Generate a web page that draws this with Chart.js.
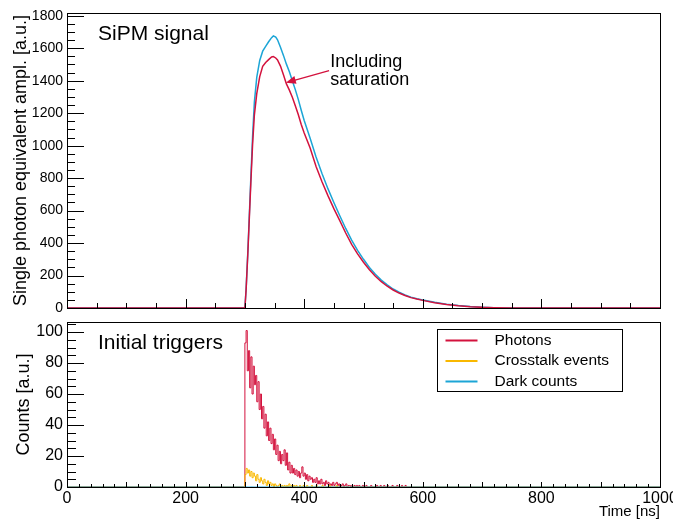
<!DOCTYPE html>
<html lang="en">
<head>
<meta charset="UTF-8">
<title>SiPM signal and initial triggers</title>
<script src="https://cdn.jsdelivr.net/npm/chart.js"></script>
<style>
  body { margin: 0; background: #fff; }
  .panel { position: absolute; left: 0; }
  #top { top: 0; }
  #bottom { top: 315px; }
</style>
</head>
<body>
<div class="panel" id="top"><canvas id="signalChart" width="673" height="315"></canvas></div>
<div class="panel" id="bottom"><canvas id="triggerChart" width="673" height="206"></canvas></div>
<script>
// ---- upper panel: SiPM signal (ns, single photon equivalent amplitude)
const signalTimes = [0, 300, 302, 305, 308, 310, 313, 316, 320, 325,
  330, 335, 340, 345, 348, 352, 355, 360, 365, 370,
  375, 380, 385, 390, 395, 400, 410, 420, 430, 440,
  450, 460, 470, 480, 490, 500, 510, 520, 530, 540,
  550, 560, 570, 580, 590, 600, 620, 640, 660, 680,
  700, 720, 750, 1000];
const signalSaturated = [0, 0, 110, 340, 600, 770, 1010, 1190, 1320, 1425,
  1488, 1512, 1530, 1546, 1549, 1540, 1528, 1490, 1436, 1380,
  1342, 1298, 1246, 1192, 1130, 1078, 985, 872, 778, 692,
  612, 538, 462, 392, 333, 282, 236, 196, 162, 134,
  111, 92, 77, 64, 55, 47, 33, 22, 14, 8,
  4, 2, 0, 0];
const signalIdeal = [0, 0, 115, 350, 620, 800, 1060, 1270, 1420, 1525,
  1582, 1612, 1640, 1665, 1676, 1668, 1652, 1606, 1556, 1502,
  1455, 1400, 1345, 1285, 1218, 1155, 1045, 930, 828, 735,
  650, 568, 490, 418, 355, 300, 250, 208, 172, 142,
  117, 97, 80, 67, 57, 49, 35, 23, 15, 9,
  5, 2, 0, 0];

// ---- lower panel: initial triggers, 2 ns bins starting at 300 ns
const binStart = 300;
const binWidth = 2;
const photonCounts = [93, 101, 75, 88, 64, 84, 60, 78, 66, 72,
  55, 68, 50, 60, 44, 52, 38, 47, 33, 42,
  30, 38, 28, 34, 24, 31, 21, 27, 17, 23,
  15, 21, 17, 24, 14, 22, 11, 16, 9, 14,
  9, 12, 8, 11, 7, 10, 6, 9, 13, 7,
  9, 5, 8, 4, 7, 5, 6, 3, 5, 3,
  6, 2, 4, 2, 5, 2, 3, 1, 4, 2,
  3, 1, 2, 1, 3, 1, 2, 3, 1, 2,
  0, 1, 2, 0, 1, 2, 0, 1, 1, 0,
  1, 0, 1, 0, 1, 0, 1, 0, 0, 1,
  0, 0, 1, 0, 0, 0, 1, 0, 0, 0,
  0, 1, 0, 0, 1, 0, 0, 1, 0, 0,
  1, 0, 0, 0, 1, 0, 0, 0, 1, 0,
  0, 0, 1, 0, 0, 1, 0, 0, 0, 0];
const crosstalkCounts = [8, 12, 9, 11, 7, 10, 6, 9, 7, 4,
  8, 5, 3, 6, 4, 2, 5, 3, 1, 4,
  2, 3, 1, 2, 0, 2, 1, 0, 1, 2,
  0, 1, 0, 1, 0, 1, 0, 2, 0, 1,
  0, 1, 0, 1, 0, 0, 1, 0, 0, 1,
  0, 0, 1, 0, 0, 0, 1, 0, 0, 0,
  1, 0, 0, 0, 0, 1, 0, 0, 0, 0,
  0, 1, 0, 0, 0, 0, 0, 1, 0, 0];
const darkCounts = [0, 0, 0, 0, 0, 0, 0, 0, 0, 0];

const xTickLabels = [0, 200, 400, 600, 800, 1000];
const signalTickLabels = [0, 200, 400, 600, 800, 1000, 1200, 1400, 1600, 1800];
const countTickLabels = [0, 20, 40, 60, 80, 100];

const annotation = {
  lines: ['Including', 'saturation'],
  textAt: [[444, 1486], [444, 1374]],
  arrowFrom: [442, 1462],
  arrowTo: [369, 1388]
};

const RED = '#d3123d';
const BLUE = '#1ca5d6';
const YELLOW = '#f9b800';
const FONT = "'Liberation Sans', Arial, Helvetica, sans-serif";

Chart.defaults.font.family = FONT;
Chart.defaults.color = '#000';

function toPoints(xs, ys) {
  return xs.map((x, i) => ({ x: x, y: ys[i] }));
}

// histogram as step points: flat zero, bins, back to zero
function histPoints(counts) {
  const pts = [{ x: 0, y: 0 }];
  counts.forEach((c, i) => pts.push({ x: binStart + i * binWidth, y: c }));
  pts.push({ x: binStart + counts.length * binWidth, y: 0 });
  pts.push({ x: 1000, y: 0 });
  return pts;
}

// ROOT-like frame with inward tick marks + panel label
const rootFrame = {
  id: 'rootFrame',
  afterDatasetsDraw(chart, args, o) {
    const { ctx, chartArea: a, scales: { x, y } } = chart;
    ctx.save();
    ctx.strokeStyle = '#000';
    ctx.lineWidth = 1;
    ctx.beginPath();
    for (let v = 0; v <= y.max; v += o.yMinor) {
      const len = v % o.yMajor === 0 ? o.yMajorLen : o.yMinorLen;
      const py = Math.round(y.getPixelForValue(v)) + 0.5;
      ctx.moveTo(a.left, py);
      ctx.lineTo(a.left + len, py);
    }
    for (let v = 0; v <= x.max; v += o.xMinor) {
      const len = v % o.xMajor === 0 ? o.xMajorLen : o.xMinorLen;
      const px = Math.round(x.getPixelForValue(v)) + 0.5;
      ctx.moveTo(px, a.bottom);
      ctx.lineTo(px, a.bottom - len);
    }
    ctx.stroke();
    ctx.strokeRect(Math.round(a.left) + 0.5, Math.round(a.top) + 0.5,
      Math.round(a.right - a.left), Math.round(a.bottom - a.top));
    ctx.fillStyle = '#000';
    ctx.font = '21px ' + FONT;
    ctx.textBaseline = 'alphabetic';
    ctx.fillText(o.label, a.left + 31, a.top + 27);
    ctx.restore();
  }
};

const arrowNote = {
  id: 'arrowNote',
  afterDatasetsDraw(chart) {
    const { ctx, scales: { x, y } } = chart;
    ctx.save();
    ctx.fillStyle = '#000';
    ctx.font = '18px ' + FONT;
    annotation.lines.forEach((t, i) => {
      ctx.fillText(t, x.getPixelForValue(annotation.textAt[i][0]), y.getPixelForValue(annotation.textAt[i][1]));
    });
    const x0 = x.getPixelForValue(annotation.arrowFrom[0]), y0 = y.getPixelForValue(annotation.arrowFrom[1]);
    const x1 = x.getPixelForValue(annotation.arrowTo[0]), y1 = y.getPixelForValue(annotation.arrowTo[1]);
    const ang = Math.atan2(y1 - y0, x1 - x0);
    ctx.strokeStyle = RED;
    ctx.fillStyle = RED;
    ctx.lineWidth = 1.3;
    ctx.beginPath();
    ctx.moveTo(x0, y0);
    ctx.lineTo(x1 - 6 * Math.cos(ang), y1 - 6 * Math.sin(ang));
    ctx.stroke();
    ctx.beginPath();
    ctx.moveTo(x1, y1);
    ctx.lineTo(x1 - 10 * Math.cos(ang) + 4 * Math.sin(ang), y1 - 10 * Math.sin(ang) - 4 * Math.cos(ang));
    ctx.lineTo(x1 - 10 * Math.cos(ang) - 4 * Math.sin(ang), y1 - 10 * Math.sin(ang) + 4 * Math.cos(ang));
    ctx.closePath();
    ctx.fill();
    ctx.restore();
  }
};

const boxLegend = {
  id: 'boxLegend',
  afterDraw(chart) {
    const { ctx, chartArea: a } = chart;
    const left = Math.round(a.right - 223) + 0.5, top = Math.round(a.top + 7) + 0.5;
    ctx.save();
    ctx.fillStyle = '#fff';
    ctx.fillRect(left, top, 185, 62);
    ctx.strokeStyle = '#000';
    ctx.lineWidth = 1;
    ctx.strokeRect(left, top, 185, 62);
    ctx.font = '15.5px ' + FONT;
    ctx.textBaseline = 'middle';
    chart.data.datasets.forEach((ds, i) => {
      const yy = top + 11 + i * 20.5;
      ctx.strokeStyle = ds.borderColor;
      ctx.lineWidth = 2;
      ctx.beginPath();
      ctx.moveTo(left + 8, yy);
      ctx.lineTo(left + 40, yy);
      ctx.stroke();
      ctx.fillStyle = '#000';
      ctx.fillText(ds.label, left + 57, yy);
    });
    ctx.restore();
  }
};

function yAxis(max, labels, title, tickSize, titlePad) {
  return {
    min: 0, max: max,
    afterFit: s => { s.width = 67; s.paddingTop = 0; s.paddingBottom = 0; },
    afterBuildTicks: s => { s.ticks = labels.map(v => ({ value: v })); },
    ticks: { padding: 4, font: { size: tickSize }, color: '#000', autoSkip: false, callback: v => String(v) },
    grid: { display: false, drawTicks: false },
    border: { display: false },
    title: { display: true, text: title, font: { size: 18 }, padding: { top: titlePad, bottom: 0 }, color: '#000' }
  };
}

new Chart(document.getElementById('signalChart'), {
  type: 'line',
  data: {
    datasets: [
      { label: 'Including saturation', data: toPoints(signalTimes, signalSaturated), borderColor: RED, borderWidth: 1.5 },
      { label: 'Without saturation', data: toPoints(signalTimes, signalIdeal), borderColor: BLUE, borderWidth: 1.5 }
    ]
  },
  options: {
    responsive: false,
    animation: false,
    elements: { point: { radius: 0 }, line: { tension: 0 } },
    layout: { padding: { left: 0, right: 13, top: 13, bottom: 7 } },
    plugins: {
      legend: { display: false },
      tooltip: { enabled: false },
      rootFrame: { label: 'SiPM signal', yMinor: 50, yMajor: 200, yMinorLen: 8, yMajorLen: 17, xMinor: 50, xMajor: 200, xMinorLen: 5, xMajorLen: 9 }
    },
    scales: {
      x: { type: 'linear', min: 0, max: 1000, display: false },
      y: yAxis(1817, signalTickLabels, 'Single photon equivalent ampl. [a.u.]', 14, 10)
    }
  },
  plugins: [rootFrame, arrowNote]
});

new Chart(document.getElementById('triggerChart'), {
  type: 'line',
  data: {
    datasets: [
      { label: 'Photons', data: histPoints(photonCounts), borderColor: RED, borderWidth: 1, stepped: true, order: 3 },
      { label: 'Crosstalk events', data: histPoints(crosstalkCounts), borderColor: YELLOW, borderWidth: 1, stepped: true, order: 2 },
      { label: 'Dark counts', data: histPoints(darkCounts), borderColor: BLUE, borderWidth: 1, stepped: true, order: 1 }
    ]
  },
  options: {
    responsive: false,
    animation: false,
    elements: { point: { radius: 0 }, line: { tension: 0 } },
    layout: { padding: { left: 0, right: 13, top: 7, bottom: 0 } },
    plugins: {
      legend: { display: false },
      tooltip: { enabled: false },
      rootFrame: { label: 'Initial triggers', yMinor: 5, yMajor: 20, yMinorLen: 9, yMajorLen: 17, xMinor: 20, xMajor: 100, xMinorLen: 3, xMajorLen: 5 }
    },
    scales: {
      x: {
        type: 'linear', min: 0, max: 1000,
        afterFit: s => { s.height = 34; s.paddingLeft = 0; s.paddingRight = 0; },
        afterBuildTicks: s => { s.ticks = xTickLabels.map(v => ({ value: v })); },
        ticks: { padding: 2, font: { size: 16 }, color: '#000', maxRotation: 0, autoSkip: false, callback: v => String(v) },
        grid: { display: false, drawTicks: false },
        border: { display: false },
        title: { display: true, text: 'Time [ns]', align: 'end', font: { size: 15 }, padding: { top: 0, bottom: 0 }, color: '#000' }
      },
      y: yAxis(106.5, countTickLabels, 'Counts [a.u.]', 16, 13)
    }
  },
  plugins: [rootFrame, boxLegend]
});
</script>
</body>
</html>
